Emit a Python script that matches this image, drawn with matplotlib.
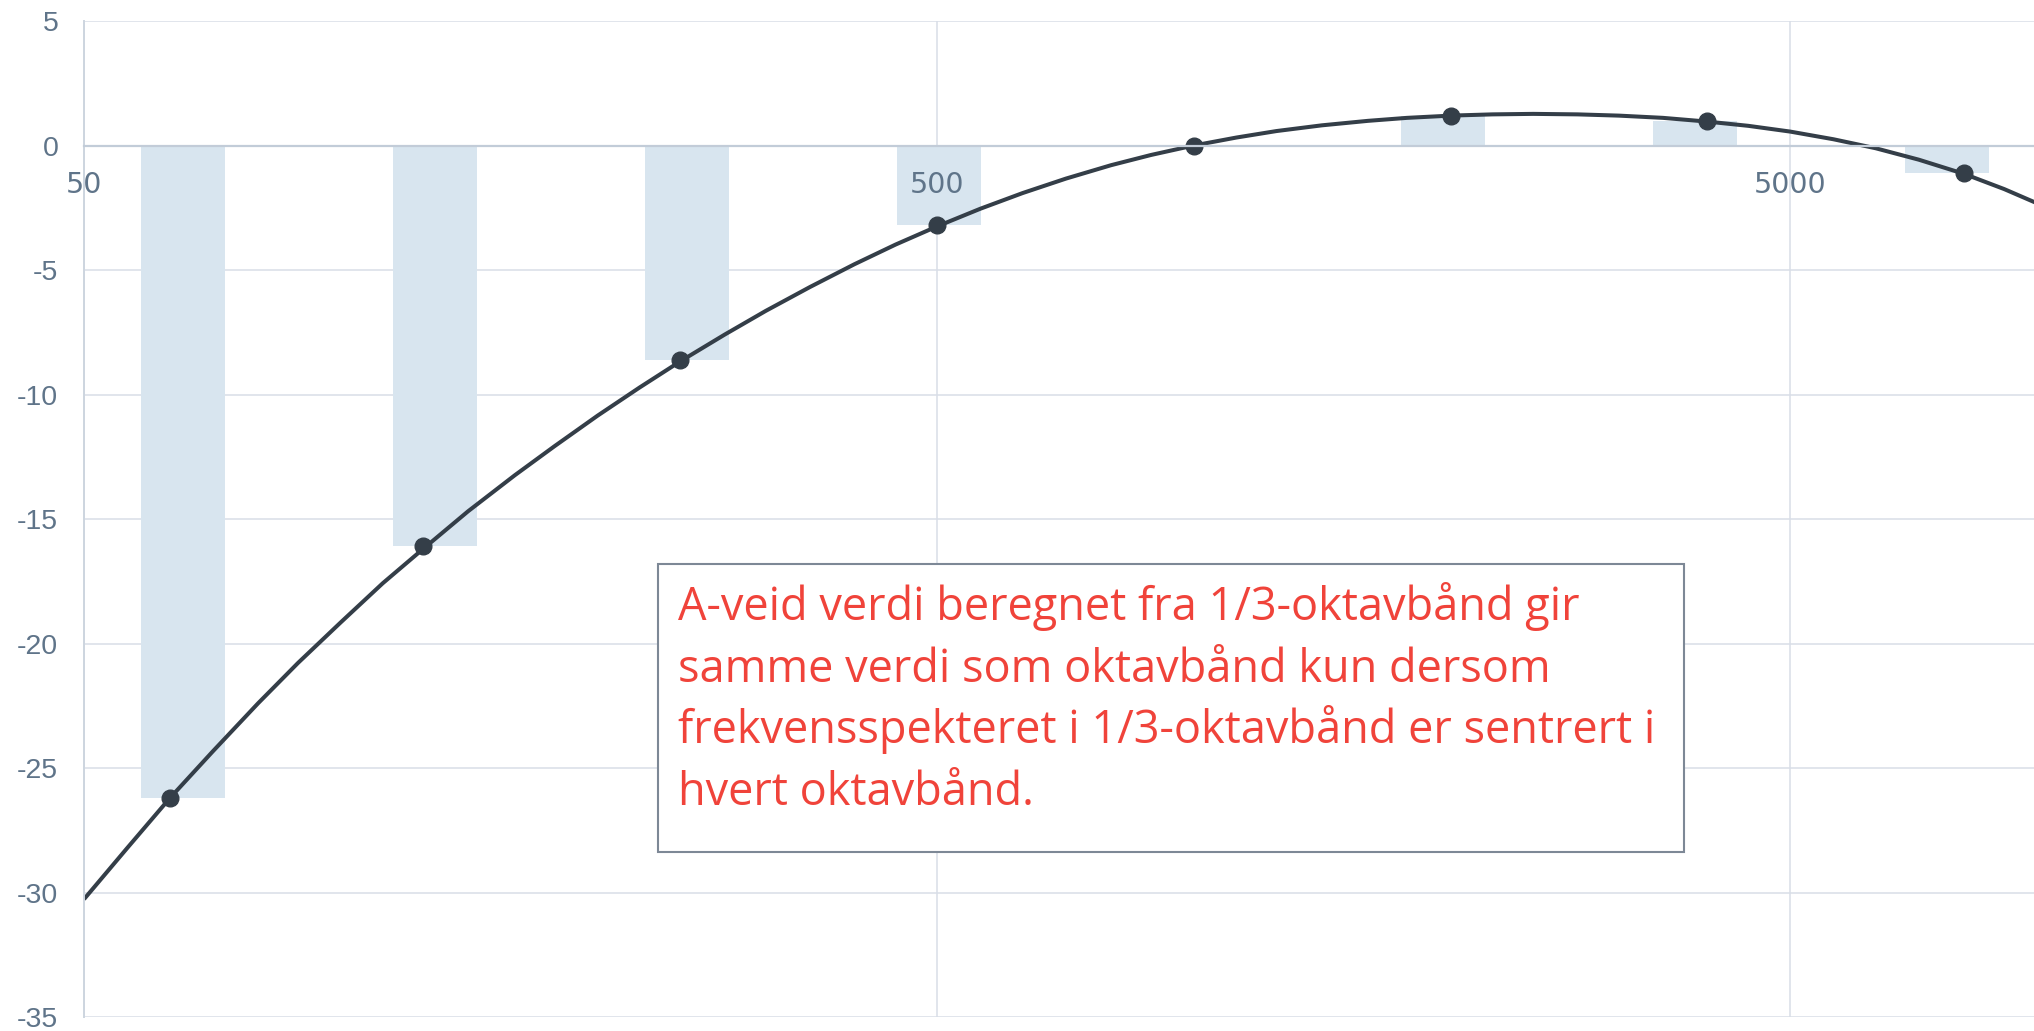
import matplotlib
matplotlib.use("Agg")
import matplotlib.pyplot as plt
from matplotlib.ticker import NullLocator
from matplotlib.patches import Rectangle

# A-weighting curve, 1/6-octave steps (Hz, dB)
curve_freqs = [50, 56.2, 63, 70.8, 80, 89.1, 100, 112, 125, 141, 160, 178,
               200, 224, 250, 282, 315, 355, 400, 447, 500, 562, 630, 708,
               800, 891, 1000, 1122, 1250, 1413, 1600, 1778, 2000, 2239,
               2500, 2818, 3150, 3548, 4000, 4467, 5000, 5623, 6300, 7079,
               8000, 8913, 10000]
curve_dba = [-30.27, -28.21, -26.22, -24.33, -22.40, -20.78, -19.15, -17.58,
             -16.19, -14.69, -13.24, -12.08, -10.85, -9.72, -8.67, -7.59,
             -6.64, -5.68, -4.77, -3.98, -3.25, -2.54, -1.91, -1.33, -0.79,
             -0.38, 0.00, 0.32, 0.58, 0.81, 0.99, 1.11, 1.20, 1.25, 1.27,
             1.25, 1.20, 1.11, 0.96, 0.79, 0.56, 0.25, -0.11, -0.57, -1.14,
             -1.75, -2.49]

# octave bands
octave_freqs = [63, 125, 250, 500, 1000, 2000, 4000, 8000]
octave_dba = [-26.2, -16.1, -8.6, -3.2, 0.0, 1.2, 1.0, -1.1]

x_ticks = [50, 500, 5000]
y_ticks = [5, 0, -5, -10, -15, -20, -25, -30, -35]

note_lines = ["A-veid verdi beregnet fra 1/3-oktavbånd gir",
              "samme verdi som oktavbånd kun dersom",
              "frekvensspekteret i 1/3-oktavbånd er sentrert i",
              "hvert oktavbånd."]

W, H = 2034, 1031
fig = plt.figure(figsize=(W / 100, H / 100), dpi=100)
pos = [84 / W, 1 - 1017 / H, (W - 84) / W, (1017 - 21) / H]

tick_col = "#5f7489"
grid_col = "#d8dee7"
line_col = "#343e48"
xlim = (50, 9660)
ylim = (-35, 5)

# grid underneath everything
ax = fig.add_axes(pos)
ax.set_xscale("log")
ax.set_xlim(*xlim)
ax.set_ylim(*ylim)
ax.set_xticks(x_ticks)
ax.xaxis.set_minor_locator(NullLocator())
ax.set_yticks(y_ticks)
ax.grid(True, color=grid_col, linewidth=1.1)
ax.tick_params(length=0, labelbottom=False, labelleft=False)
for s in ax.spines.values():
    s.set_visible(False)

# octave bars on a category axis
axb = fig.add_axes(pos, frameon=False)
axb.set_xlim(-0.393, 7.345)
axb.set_ylim(*ylim)
axb.bar(range(len(octave_dba)), octave_dba, width=0.333, color="#d8e5ef")
axb.set_xticks([])
axb.set_yticks([])

# weighting curve, octave points, tick labels
axl = fig.add_axes(pos)
axl.patch.set_visible(False)
axl.set_xscale("log")
axl.set_xlim(*xlim)
axl.set_ylim(*ylim)
axl.plot(curve_freqs, curve_dba, color=line_col, linewidth=2.9,
         solid_capstyle="butt", solid_joinstyle="round")
axl.plot(octave_freqs, octave_dba, "o", color=line_col, markersize=12)
axl.set_xticks(x_ticks)
axl.set_xticklabels([str(v) for v in x_ticks])
axl.xaxis.set_minor_locator(NullLocator())
axl.set_yticks(y_ticks)
axl.set_yticklabels([str(v) for v in y_ticks])
axl.tick_params(length=0, labelsize=20.5, labelcolor=tick_col)
axl.tick_params(axis="y", pad=18.5)
axl.tick_params(axis="x", pad=18)
for lab in axl.get_xticklabels() + axl.get_yticklabels():
    lab.set_fontfamily("Liberation Sans")
axl.spines["top"].set_visible(False)
axl.spines["right"].set_visible(False)
axl.spines["left"].set_color("#cdd5df")
axl.spines["left"].set_linewidth(1.4)
axl.spines["bottom"].set_position(("data", 0))
axl.spines["bottom"].set_color("#c2ccd8")
axl.spines["bottom"].set_linewidth(1.6)

# note box
bx0, by0, bx1, by1 = 658, 564, 1684, 852
fig.patches.append(Rectangle((bx0 / W, 1 - by1 / H), (bx1 - bx0) / W,
                             (by1 - by0) / H, transform=fig.transFigure,
                             facecolor="white", edgecolor="#7d8896",
                             linewidth=1.5, zorder=5))
for i, txt in enumerate(note_lines):
    fig.text(678 / W, 1 - (620 + 61.7 * i) / H, txt, color="#f0433a",
             fontsize=32.5, family="Open Sans", va="baseline", ha="left",
             zorder=6)

fig.savefig("out.png", dpi=100)
